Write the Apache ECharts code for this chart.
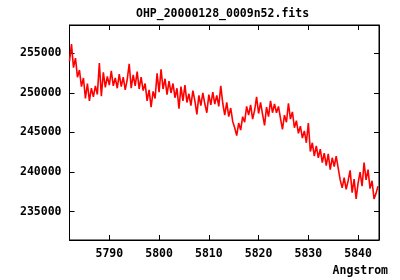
<!DOCTYPE html>
<html>
<head>
<meta charset="utf-8">
<script src="https://cdn.jsdelivr.net/npm/echarts@6/dist/echarts.min.js"></script>
<style>html,body{margin:0;padding:0;background:#fff}#c{width:400px;height:280px}</style>
</head>
<body>
<div id="c"></div>
<script>
const title = "OHP_20000128_0009n52.fits";
const xName = "Angstrom";
const xTicks = [5790, 5800, 5810, 5820, 5830, 5840];
const yTicks = [235000, 240000, 245000, 250000, 255000];
const wavelength = [
5782.0,5782.4,5782.8,5783.2,5783.6,5784.0,5784.4,5784.8,5785.2,5785.6,
5786.0,5786.4,5786.8,5787.2,5787.6,5788.0,5788.4,5788.8,5789.2,5789.6,
5790.0,5790.4,5790.8,5791.2,5791.6,5792.0,5792.4,5792.8,5793.2,5793.6,
5794.0,5794.4,5794.8,5795.2,5795.6,5796.0,5796.4,5796.8,5797.2,5797.6,
5798.0,5798.4,5798.8,5799.2,5799.6,5800.0,5800.4,5800.8,5801.2,5801.6,
5802.0,5802.4,5802.8,5803.2,5803.6,5804.0,5804.4,5804.8,5805.2,5805.6,
5806.0,5806.4,5806.8,5807.2,5807.6,5808.0,5808.4,5808.8,5809.2,5809.6,
5810.0,5810.4,5810.8,5811.2,5811.6,5812.0,5812.4,5812.8,5813.2,5813.6,
5814.0,5814.4,5814.8,5815.2,5815.6,5816.0,5816.4,5816.8,5817.2,5817.6,
5818.0,5818.4,5818.8,5819.2,5819.6,5820.0,5820.4,5820.8,5821.2,5821.6,
5822.0,5822.4,5822.8,5823.2,5823.6,5824.0,5824.4,5824.8,5825.2,5825.6,
5826.0,5826.4,5826.8,5827.2,5827.6,5828.0,5828.4,5828.8,5829.2,5829.6,
5830.0,5830.4,5830.8,5831.2,5831.6,5832.0,5832.4,5832.8,5833.2,5833.6,
5834.0,5834.4,5834.8,5835.2,5835.6,5836.0,5836.4,5836.8,5837.2,5837.6,
5838.0,5838.4,5838.8,5839.2,5839.6,5840.0,5840.4,5840.8,5841.2,5841.6,
5842.0,5842.4,5842.8,5843.2,5843.6,5844.0
];
const flux = [
254000,256200,253200,254400,252000,252900,250800,251900,249300,251200,
249000,250600,249500,250900,249800,253800,249600,252600,250700,252100,
251000,252800,250900,251900,250600,252400,250800,252000,250400,251700,
253700,250600,252300,250900,252700,250500,252000,250300,251200,249000,
250400,248200,250200,249300,252500,250100,253000,250500,251800,249800,
251500,250000,251200,249400,250600,248000,250800,249000,251000,248800,
249900,248400,250300,249000,247300,249700,248400,250000,248600,247500,
249800,248500,250100,248600,249700,248300,250900,248700,247200,248800,
247000,248100,246400,245600,244600,246200,245300,247000,246300,248300,
247200,248500,246700,247800,249500,247400,248800,247300,245900,248200,
247000,249000,247500,248600,247500,248300,246800,245400,247200,246300,
248700,246700,247600,245600,246500,244900,245800,244300,245200,243700,
246200,242600,243700,242000,243300,241800,242900,241200,242400,240800,
242300,240300,241800,240700,242000,240500,239000,238000,239300,237800,
238900,240200,237400,239100,236600,238600,240000,238200,241200,239000,
240300,237900,238900,236600,237300,238200
];

const font = '"DejaVu Sans Mono", monospace';
const chart = echarts.init(document.getElementById('c'), null, {renderer: 'canvas'});
const axisCommon = {
  axisLine: {show: true, lineStyle: {color: '#000', width: 1}},
  splitLine: {show: false},
};
const labelStyle = {fontFamily: font, fontWeight: 'bold', fontSize: 11.5, color: '#000', formatter: v => String(v)};
chart.setOption({
  animation: false,
  backgroundColor: '#fff',
  grid: {left: 69.5, right: 21, top: 25, bottom: 40, show: true, borderColor: '#000', borderWidth: 1, containLabel: false},
  xAxis: [
    Object.assign({}, axisCommon, {
      type: 'value', min: 5782, max: 5844.2, position: 'bottom',
      axisTick: {show: true, inside: true, length: 5, lineStyle: {color: '#000'}, customValues: xTicks},
      axisLabel: Object.assign({show: true, margin: 8, customValues: xTicks}, labelStyle)
    }),
    Object.assign({}, axisCommon, {
      type: 'value', min: 5782, max: 5844.2, position: 'top',
      axisTick: {show: true, inside: true, length: 5, lineStyle: {color: '#000'}, customValues: xTicks},
      axisLabel: {show: false}
    })
  ],
  yAxis: [
    Object.assign({}, axisCommon, {
      type: 'value', min: 231400, max: 258600, position: 'left',
      axisTick: {show: true, inside: true, length: 5, lineStyle: {color: '#000'}, customValues: yTicks},
      axisLabel: Object.assign({show: true, margin: 8, customValues: yTicks}, labelStyle)
    }),
    Object.assign({}, axisCommon, {
      type: 'value', min: 231400, max: 258600, position: 'right',
      axisTick: {show: true, inside: true, length: 5, lineStyle: {color: '#000'}, customValues: yTicks},
      axisLabel: {show: false}
    })
  ],
  graphic: [{
    type: 'text', left: 136, top: 8,
    style: {text: title, font: 'bold 11.5px ' + font, fill: '#000'}
  }, {
    type: 'text', right: 12, top: 265,
    style: {text: xName, font: 'bold 11.5px ' + font, fill: '#000'}
  }],
  series: [{
    type: 'line',
    data: wavelength.map((w, i) => [w, flux[i]]),
    showSymbol: false,
    clip: true,
    lineStyle: {color: '#ff0000', width: 1.6},
    itemStyle: {color: '#ff0000'}
  }]
});
</script>
</body>
</html>
